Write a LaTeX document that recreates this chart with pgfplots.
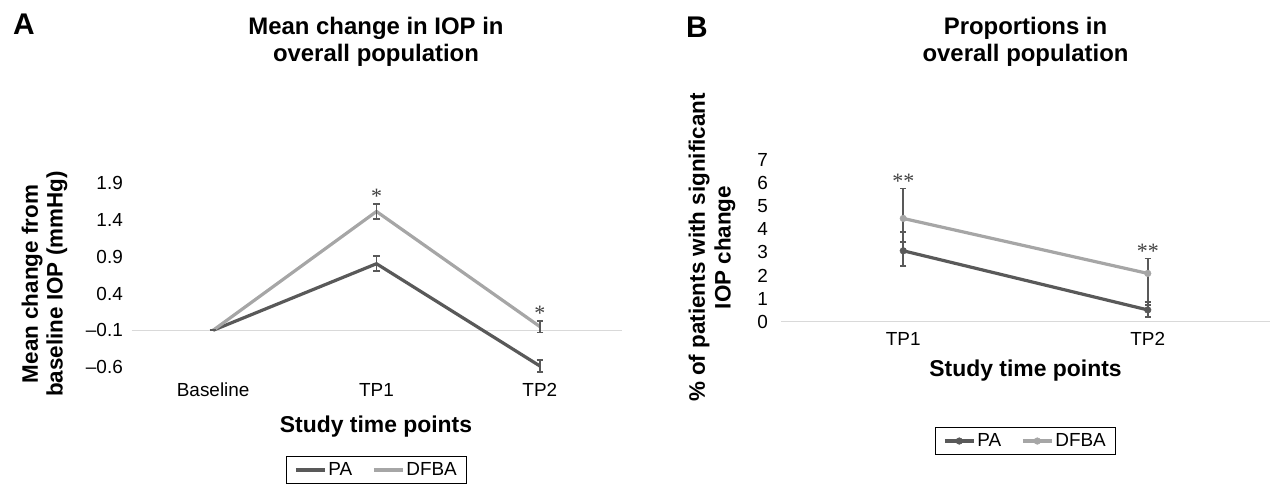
\documentclass[border=0pt]{standalone}
\usepackage{fontspec}
\setmainfont{Liberation Sans}
\newfontfamily\starfont{Liberation Serif}
\usepackage{pgfplots}
\pgfplotsset{compat=1.18}
\definecolor{pa}{HTML}{595959}
\definecolor{dfba}{HTML}{A6A6A6}
\definecolor{err}{HTML}{595959}
\definecolor{axln}{HTML}{D9D9D9}
\definecolor{star}{HTML}{404040}
\newcommand\fs[2]{\fontsize{#1}{#2}\selectfont}
\tikzset{starnode/.style={font=\starfont\fs{22}{24}, text=star, anchor=south, inner sep=0bp}}

\begin{document}
\begin{tikzpicture}
\useasboundingbox (0,0) rectangle (1270bp,485bp);
\pgfplotsset{
  panel/.style={
    scale only axis, clip=false,
    axis line style={draw=none}, major tick length=0pt, tick style={draw=none},
    ticklabel style={font=\fs{19}{22}},
    xticklabel style={anchor=center},
    yticklabel style={anchor=east, inner sep=0pt},
    legend columns=2,
    legend style={draw=black, line width=0.9bp, font=\fs{19}{22},
      inner xsep=8bp, inner ysep=4bp, anchor=center,
      /tikz/every even column/.append style={column sep=18bp}},
    legend image code/.code={
      \draw[mark repeat=2,mark phase=2,##1] plot coordinates {(0bp,0bp) (14.5bp,0bp) (29bp,0bp)};},
  },
  ebar/.style={error bars/.cd, y dir=both, y explicit,
    error bar style={err, line width=1.8bp},
    error mark options={err, rotate=90, mark size=3.2bp, line width=1.8bp}},
}

% ---------------- Panel A
\node[font=\bfseries\fs{30}{32}] at (24bp,461bp) {A};
\node[font=\bfseries\fs{24}{27}, align=center] at (376bp,443.5bp) {Mean change in IOP in\\overall population};
\node[font=\bfseries\fs{22.5}{25}, align=center, rotate=90] at (44.5bp,201bp) {Mean change from\\baseline IOP (mmHg)};
\node[font=\bfseries\fs{23}{25}] at (376bp,58.3bp) {Study time points};

\begin{axis}[panel,
  at={(131.5bp,118bp)}, anchor=south west,
  width=490bp, height=183.75bp,
  xmin=-0.5, xmax=2.5, ymin=-0.6, ymax=1.9,
  xtick={0,1,2}, xticklabels={Baseline,TP1,TP2},
  ytick={-0.6,-0.1,0.4,0.9,1.4,1.9},
  yticklabels={–0.6,–0.1,0.4,0.9,1.4,1.9},
  xticklabel style={yshift=-22.5bp},
  yticklabel style={xshift=-8.5bp},
  legend style={at={(0.5,-0.5605)}},
]
\draw[axln, line width=1.3bp] (axis cs:-0.5,-0.1) -- (axis cs:2.5,-0.1);
% PA
\addplot[pa, line width=3.2bp, mark=none, ebar] coordinates {
  (0,-0.1) +- (0,0)
  (1,0.805) +- (0,0.10)
  (2,-0.586) +- (0,0.08)
};
\addlegendentry{PA}
% DFBA
\addplot[dfba, line width=3.2bp, mark=none, ebar] coordinates {
  (0,-0.1) +- (0,0)
  (1,1.516) +- (0,0.10)
  (2,-0.05) +- (0,0.08)
};
\addlegendentry{DFBA}
\node[starnode] at (axis cs:1,1.616) {*};
\node[starnode] at (axis cs:2,0.03) {*};
\end{axis}

% ---------------- Panel B
\node[font=\bfseries\fs{30}{32}] at (697bp,458bp) {B};
\node[font=\bfseries\fs{24}{27}, align=center] at (1025.5bp,443.5bp) {Proportions in\\overall population};
\node[font=\bfseries\fs{22.5}{26}, align=center, rotate=90] at (712bp,237.5bp) {\% of patients with significant\\IOP change};
\node[font=\bfseries\fs{23}{25}] at (1025.5bp,114.3bp) {Study time points};

\begin{axis}[panel,
  at={(781bp,163.3bp)}, anchor=south west,
  width=489bp, height=161.7bp,
  xmin=-0.5, xmax=1.5, ymin=0, ymax=7,
  xtick={0,1}, xticklabels={TP1,TP2},
  ytick={0,1,2,3,4,5,6,7},
  yticklabel style={xshift=-13bp, /pgf/number format/assume math mode=true},
  xticklabel style={yshift=-17bp},
  legend style={at={(0.5,-0.738)}},
]
\draw[axln, line width=1.3bp] (axis cs:-0.5,0) -- (axis cs:1.5,0);
% PA
\addplot[pa, line width=3.2bp, mark=*, mark size=3.3bp, mark options={fill=pa, draw=pa, line width=0.5bp}, ebar] coordinates {
  (0,3.07) += (0,0.80) -= (0,0.65)
  (1,0.51) += (0,0.36) -= (0,0.29)
};
\addlegendentry{PA}
% DFBA
\addplot[dfba, line width=3.2bp, mark=*, mark size=3.3bp, mark options={fill=dfba, draw=dfba, line width=0.5bp}, ebar] coordinates {
  (0,4.47) += (0,1.30) -= (0,1.01)
  (1,2.09) += (0,0.65) -= (0,1.37)
};
\addlegendentry{DFBA}
\node[starnode] at (axis cs:0,5.77) {**};
\node[starnode] at (axis cs:1,2.74) {**};
\end{axis}
\end{tikzpicture}
\end{document}
